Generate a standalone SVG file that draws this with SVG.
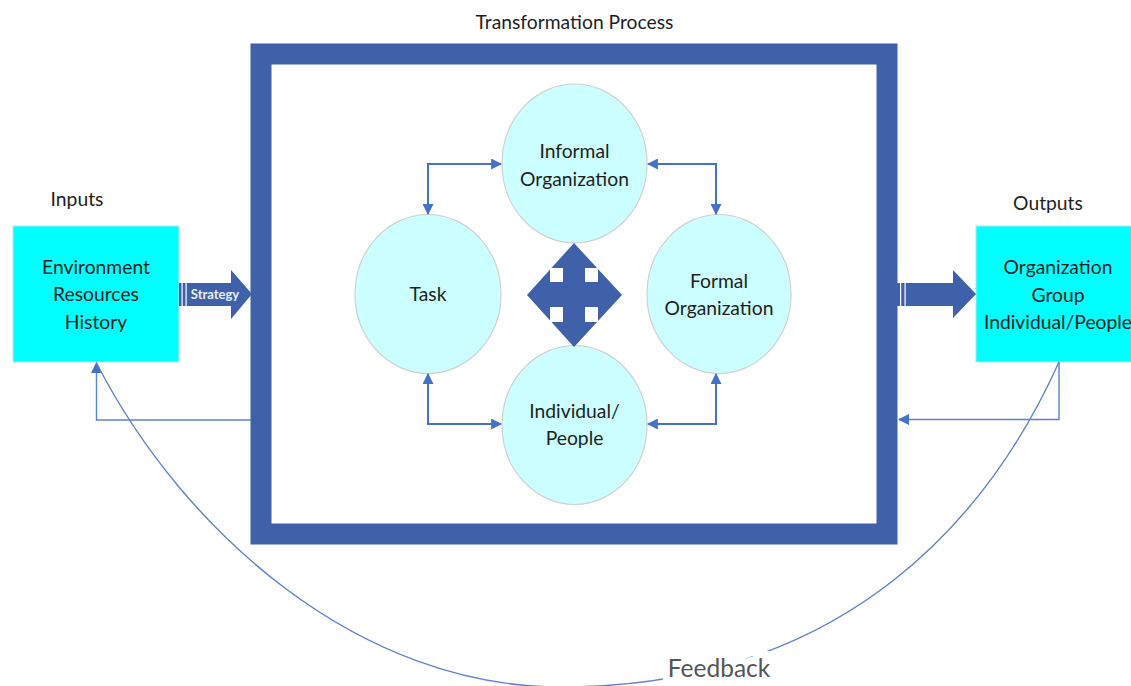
<svg xmlns="http://www.w3.org/2000/svg" width="1131" height="686" viewBox="0 0 1131 686">
  <defs>
    <style>
      .lbl { font-family: Lato, "Open Sans", "Liberation Sans", sans-serif; fill: #1E1E1E; text-anchor: middle; font-size: 19.3px; }
      .circle { fill: #CCFFFF; stroke: #D0D0D0; stroke-width: 1.2; }
      .box { fill: #00FFFF; stroke: #B8E8E8; stroke-width: 1; }
      .link { fill: none; stroke: #4472C4; stroke-width: 2; }
      .fb { fill: none; stroke: #5B84CC; stroke-width: 1.4; }
      .bigblue { fill: #3E61A9; }
    </style>
    <marker id="ah" viewBox="0 0 10 10" refX="9" refY="5" markerWidth="5.5" markerHeight="5.5" orient="auto-start-reverse" markerUnits="strokeWidth">
      <path d="M0,0 L10,5 L0,10 z" fill="#4472C4"/>
    </marker>
    <marker id="ahf" viewBox="0 0 10 10" refX="9" refY="5" markerWidth="8" markerHeight="8" orient="auto" markerUnits="strokeWidth">
      <path d="M0,0 L10,5 L0,10 z" fill="#4472C4"/>
    </marker>
  </defs>

  <rect width="1131" height="686" fill="#FFFFFF"/>

  <!-- transformation frame -->
  <g id="frame">
    <rect x="261" y="54" width="626" height="480" fill="#FFFFFF" stroke="#3E61A9" stroke-width="21"/>
    <text class="lbl" x="574.5" y="29">Transformation Process</text>
  </g>

  <!-- inputs -->
  <g id="inputs">
    <text class="lbl" x="77" y="206">Inputs</text>
    <rect class="box" x="13" y="226" width="166" height="136"/>
    <text class="lbl" x="96" y="274">Environment</text>
    <text class="lbl" x="96" y="301">Resources</text>
    <text class="lbl" x="96" y="329">History</text>
  </g>

  <!-- outputs -->
  <g id="outputs">
    <text class="lbl" x="1048" y="210">Outputs</text>
    <rect class="box" x="976" y="226" width="160" height="136"/>
    <text class="lbl" x="1058" y="274">Organization</text>
    <text class="lbl" x="1058" y="302">Group</text>
    <text class="lbl" x="1058" y="329">Individual/People</text>
  </g>

  <!-- strategy arrow -->
  <g id="strategy">
    <polygon class="bigblue" points="179,283 231,283 231,270 252,294 231,319 231,306 179,306"/>
    <rect x="181.5" y="283" width="1.2" height="23" fill="#FFFFFF"/>
    <rect x="185.5" y="283" width="1.2" height="23" fill="#FFFFFF"/>
    <text x="215" y="299" font-family="Lato, 'Open Sans', 'Liberation Sans', sans-serif" font-size="13" font-weight="bold" fill="#E8EEF8" text-anchor="middle">Strategy</text>
  </g>

  <!-- output arrow -->
  <g id="output-arrow">
    <polygon class="bigblue" points="897,283 953,283 953,270 976,294 953,318 953,306 897,306"/>
    <rect x="900" y="283" width="1.2" height="23" fill="#FFFFFF"/>
    <rect x="904.5" y="283" width="1.2" height="23" fill="#FFFFFF"/>
  </g>

  <!-- circles -->
  <g id="informal">
    <ellipse class="circle" cx="574.5" cy="163.5" rx="72.5" ry="79.5"/>
    <text class="lbl" x="574.5" y="158">Informal</text>
    <text class="lbl" x="574.5" y="186">Organization</text>
  </g>
  <g id="task">
    <ellipse class="circle" cx="428" cy="294" rx="73" ry="79.5"/>
    <text class="lbl" x="428" y="301">Task</text>
  </g>
  <g id="formal">
    <ellipse class="circle" cx="719" cy="294" rx="72" ry="79.5"/>
    <text class="lbl" x="719" y="288">Formal</text>
    <text class="lbl" x="719" y="315">Organization</text>
  </g>
  <g id="individual">
    <ellipse class="circle" cx="574.5" cy="425" rx="72.5" ry="79.5"/>
    <text class="lbl" x="574.5" y="418">Individual/</text>
    <text class="lbl" x="574.5" y="445">People</text>
  </g>

  <!-- four-way arrow -->
  <g id="quad-arrow">
    <polygon class="bigblue" points="574,243 622,295 574,347 527,295"/>
    <rect x="550" y="268" width="13" height="14" fill="#FFFFFF"/>
    <rect x="585" y="268" width="13" height="14" fill="#FFFFFF"/>
    <rect x="550" y="307" width="13" height="15" fill="#FFFFFF"/>
    <rect x="585" y="307" width="13" height="15" fill="#FFFFFF"/>
  </g>

  <!-- connectors -->
  <g id="connectors">
    <path class="link" d="M501,164 H428 V214" marker-start="url(#ah)" marker-end="url(#ah)"/>
    <path class="link" d="M648,164 H716 V214" marker-start="url(#ah)" marker-end="url(#ah)"/>
    <path class="link" d="M428,374 V424 H501" marker-start="url(#ah)" marker-end="url(#ah)"/>
    <path class="link" d="M716,374 V424 H648" marker-start="url(#ah)" marker-end="url(#ah)"/>

    <path class="fb" d="M251,420 H96.5 V363" marker-end="url(#ahf)"/>
    <path class="fb" d="M1059,362 V419.5 H899" marker-end="url(#ahf)"/>
    <path class="fb" d="M1059,362 C991.5,512 850,687 560,687 C360,687 185,534 97,364"/>
  </g>

  <g id="feedback-label">
    <text x="719" y="677" font-family="Lato, 'Open Sans', 'Liberation Sans', sans-serif" font-size="24.5" fill="#555555" text-anchor="middle" stroke="#FFFFFF" stroke-width="14" paint-order="stroke">Feedback</text>
  </g>
</svg>
